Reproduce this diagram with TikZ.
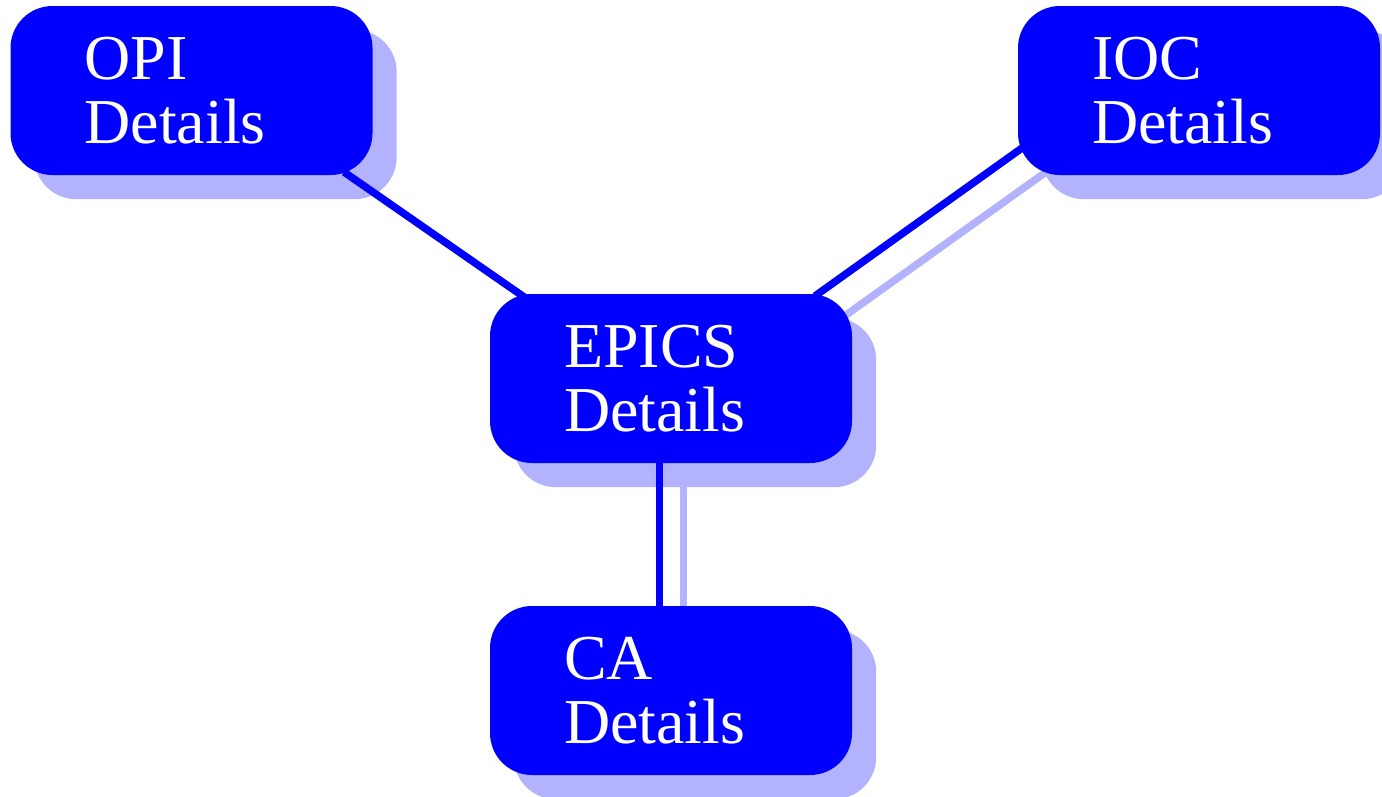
\documentclass[tikz,border=0pt]{standalone}
\usepackage{fontspec}
\setmainfont{Liberation Serif}
\pgfdeclarelayer{bgline}
\pgfdeclarelayer{shadow}
\pgfsetlayers{bgline,shadow,main}
\newcommand\twolines[2]{\vbox to 169pt{\offinterlineskip\kern73pt\hbox to 214pt{\raisebox{0pt}[0pt][0pt]{#1}\hfil}\kern64pt\hbox to 214pt{\raisebox{0pt}[0pt][0pt]{#2}\hfil}\vss}}
\begin{document}
\begin{tikzpicture}[x=1pt,y=-1pt,
  boxnode/.style={rectangle, rounded corners=42pt, fill=blue, draw=none,
    minimum width=362pt, minimum height=169pt, inner sep=0pt,
    text=white, font=\fontsize{64}{64}\selectfont},
  shadowfill/.style={fill=blue!30, rounded corners=42pt},
  link/.style={draw=blue, line width=7.5pt},
  shadowlink/.style={draw=blue!30, line width=7.5pt}]
\useasboundingbox (0,0) rectangle (1382,796);
\clip (0,0) rectangle (1382,796);

\node[boxnode] (opi)   at (191.5,90.5)  {\twolines{OPI}{Details}};
\node[boxnode] (ioc)   at (1199,90.5)   {\twolines{IOC}{Details}};
\node[boxnode] (epics) at (671,378.5)   {\twolines{EPICS}{Details}};
\node[boxnode] (ca)    at (671,690.5)   {\twolines{CA}{Details}};

\begin{pgfonlayer}{shadow}
\foreach \n in {opi,ioc,epics,ca}{
  \fill[shadowfill] ([shift={(24,24)}]\n.north west) rectangle ([shift={(24,24)}]\n.south east);
}
\end{pgfonlayer}

\begin{pgfonlayer}{bgline}
\draw[shadowlink] ([shift={(-153,81.5)}]ioc.center) -- ([shift={(168,-58.5)}]epics.center);
\draw[shadowlink] ([shift={(12.5,108.5)}]epics.center) -- ([shift={(12.5,-60.5)}]ca.center);
\end{pgfonlayer}

\draw[link] ([shift={(152.5,81.5)}]opi.center) -- ([shift={(-144,-79.5)}]epics.center);
\draw[link] ([shift={(-177,57.5)}]ioc.center) -- ([shift={(144,-82.5)}]epics.center);
\draw[link] ([shift={(-11.5,84.5)}]epics.center) -- ([shift={(-11.5,-84.5)}]ca.center);
\end{tikzpicture}
\end{document}
